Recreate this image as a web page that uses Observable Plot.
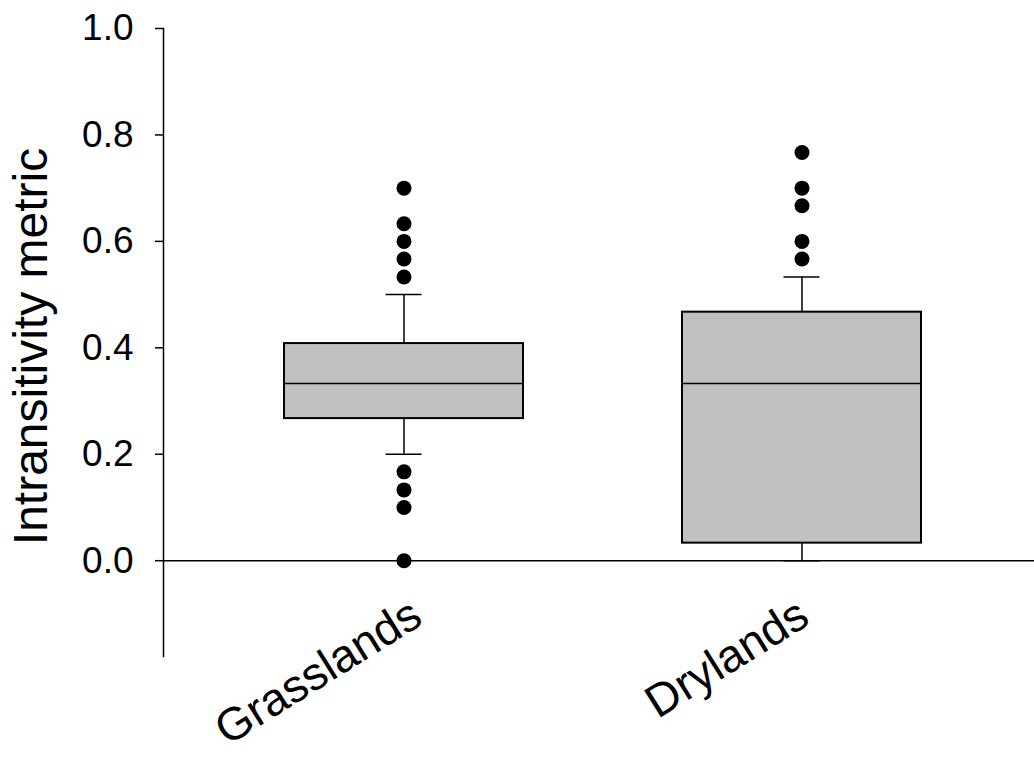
<!DOCTYPE html>
<html>
<head>
<meta charset="utf-8">
<script src="https://cdn.jsdelivr.net/npm/d3@7"></script>
<script src="https://cdn.jsdelivr.net/npm/@observablehq/plot@0.6"></script>
<style>
  html, body { margin: 0; padding: 0; background: #fff; }
  #chart svg { display: block; }
</style>
</head>
<body>
<div id="chart"></div>
<script>
// Data
const categories = ["Grasslands", "Drylands"];
const q1 = [0.267, 0.033];
const median = [0.333, 0.333];
const q3 = [0.408, 0.467];
const whiskerLow = [0.2, 0.0];
const whiskerHigh = [0.5, 0.533];
const outliersGrasslands = [0.7, 0.633, 0.6, 0.567, 0.533, 0.167, 0.133, 0.1, 0.0];
const outliersDrylands = [0.767, 0.7, 0.667, 0.6, 0.567];
const yTicks = [0, 0.2, 0.4, 0.6, 0.8, 1.0];
const yLabel = "Intransitivity metric";

const boxes = categories.map((c, i) => ({
  cat: c, q1: q1[i], median: median[i], q3: q3[i], lo: whiskerLow[i], hi: whiskerHigh[i]
}));
const outliers = [
  ...outliersGrasslands.map(v => ({cat: "Grasslands", value: v})),
  ...outliersDrylands.map(v => ({cat: "Drylands", value: v}))
];

const font = "'Liberation Sans', Arial, sans-serif";
const xAxisStyle = {tickSize: 0, tickRotate: -32, fontSize: 46, label: null, tickPadding: 0};

const chart = Plot.plot({
  width: 1034,
  height: 762,
  marginLeft: 163,
  marginRight: 0,
  marginTop: 28,
  marginBottom: 106,
  style: {fontFamily: font, background: "#fff", color: "#000"},
  x: {domain: categories, paddingInner: 0.4, paddingOuter: 0.294, align: 0.515},
  y: {domain: [-0.18, 1.0]},
  marks: [
    Plot.ruleY([0], {stroke: "#000", strokeWidth: 1.5}),
    Plot.ruleX(boxes, {x: "cat", y1: "q3", y2: "hi", stroke: "#000", strokeWidth: 1.5}),
    Plot.ruleX(boxes, {x: "cat", y1: "lo", y2: "q1", stroke: "#000", strokeWidth: 1.5}),
    Plot.tickY(boxes, {x: "cat", y: "hi", stroke: "#000", strokeWidth: 1.5, insetLeft: 101.5, insetRight: 101.5}),
    Plot.tickY(boxes, {x: "cat", y: "lo", stroke: "#000", strokeWidth: 1.5, insetLeft: 101.5, insetRight: 101.5}),
    Plot.barY(boxes, {x: "cat", y1: "q1", y2: "q3", fill: "#c0c0c0", stroke: "#000", strokeWidth: 2}),
    Plot.tickY(boxes, {x: "cat", y: "median", stroke: "#000", strokeWidth: 1.5}),
    Plot.dot(outliers, {x: "cat", y: "value", r: 7.5, fill: "#000", stroke: "none"}),
    Plot.frame({anchor: "left", stroke: "#000", strokeWidth: 1.5}),
    Plot.axisY({ticks: yTicks, tickFormat: d3.format(".1f"), tickSize: 8, tickPadding: 22,
      fontSize: 37, label: null, strokeWidth: 1.5}),
    Plot.axisX({...xAxisStyle, ticks: [categories[0]], dx: 13, dy: -46}),
    Plot.axisX({...xAxisStyle, ticks: [categories[1]], dx: 2, dy: -46}),
    Plot.text([yLabel], {frameAnchor: "left", dx: -132, rotate: -90, fontSize: 48, fill: "#000",
      textAnchor: "middle", lineAnchor: "middle", dy: 4})
  ]
});
document.getElementById("chart").appendChild(chart);
</script>
</body>
</html>
